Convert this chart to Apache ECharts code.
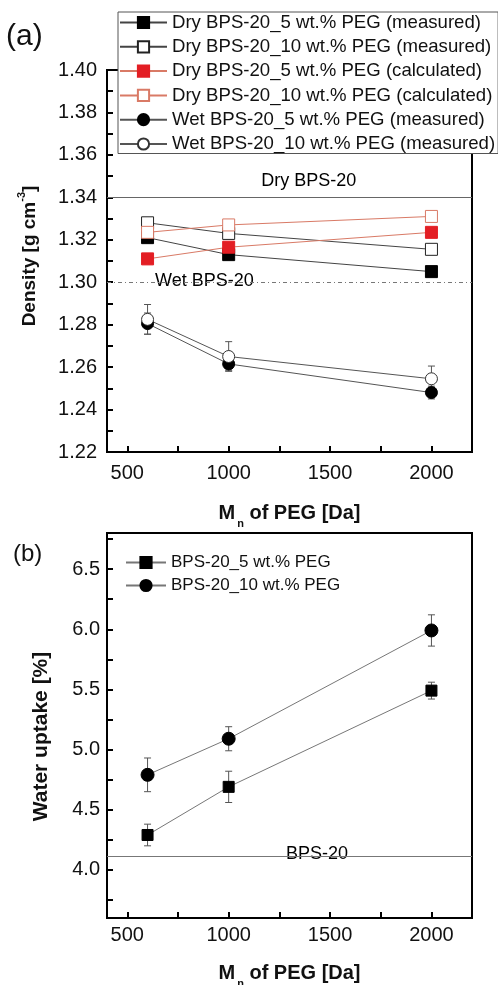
<!DOCTYPE html>
<html>
<head>
<meta charset="utf-8">
<script src="https://cdn.jsdelivr.net/npm/echarts@6/dist/echarts.min.js"></script>
<style>
html,body{margin:0;padding:0;background:#fff;}
#chart{width:498px;height:985px;}
</style>
</head>
<body>
<div id="chart"></div>
<script>
// ---------- data ----------
const mnPEG = [600, 1000, 2000];
// (a) density [g cm-3]
const dry5Measured = [1.321, 1.313, 1.305];
const dry10Measured = [1.328, 1.323, 1.3155];
const dry5Calculated = [1.311, 1.3165, 1.3235];
const dry10Calculated = [1.3235, 1.327, 1.331];
const wet5Measured = [1.2805, 1.2615, 1.248];
const wet5Err = [0.005, 0.003, 0.003];
const wet10Measured = [1.2825, 1.265, 1.2545];
const wet10Err = [0.007, 0.007, 0.006];
const dryRef = 1.341;
const wetRef = 1.299;
// (b) water uptake [%]
const uptake5 = [4.29, 4.69, 5.49];
const uptake5Err = [0.09, 0.13, 0.07];
const uptake10 = [4.79, 5.09, 5.99];
const uptake10Err = [0.14, 0.10, 0.13];
const bpsRef = 4.11;
// ticks
const xTicks = [500, 750, 1000, 1250, 1500, 1750, 2000];
const xLabels = [500, 1000, 1500, 2000];
const yTicksA = [1.22,1.23,1.24,1.25,1.26,1.27,1.28,1.29,1.30,1.31,1.32,1.33,1.34,1.35,1.36,1.37,1.38,1.39,1.40];
const yLabelsA = [1.22,1.24,1.26,1.28,1.30,1.32,1.34,1.36,1.38,1.40];
const yTicksB = [3.75,4.0,4.25,4.5,4.75,5.0,5.25,5.5,5.75,6.0,6.25,6.5,6.75];
const yLabelsB = [4.0,4.5,5.0,5.5,6.0,6.5];
const namesA = [
  'Dry BPS-20_5 wt.% PEG (measured)',
  'Dry BPS-20_10 wt.% PEG (measured)',
  'Dry BPS-20_5 wt.% PEG (calculated)',
  'Dry BPS-20_10 wt.% PEG (calculated)',
  'Wet BPS-20_5 wt.% PEG (measured)',
  'Wet BPS-20_10 wt.% PEG (measured)'
];
const namesB = ['BPS-20_5 wt.% PEG', 'BPS-20_10 wt.% PEG'];

// ---------- helpers ----------
const FONT = 'Liberation Sans, Arial, sans-serif';
const pts = (ys) => mnPEG.map((x, i) => [x, ys[i]]);
const errPts = (ys, es) => mnPEG.map((x, i) => [x, ys[i], es[i]]);
function errSeries(ys, es, xi, yi) {
  return {
    type: 'custom', xAxisIndex: xi, yAxisIndex: yi, z: 1, silent: true,
    data: errPts(ys, es),
    renderItem: function (params, api) {
      const x = api.value(0), y = api.value(1), e = api.value(2);
      const t = api.coord([x, y + e]);
      const b = api.coord([x, y - e]);
      const w = 3.5;
      const st = {stroke: '#555', lineWidth: 1};
      return {type: 'group', children: [
        {type: 'line', shape: {x1: t[0], y1: t[1], x2: b[0], y2: b[1]}, style: st},
        {type: 'line', shape: {x1: t[0]-w, y1: t[1], x2: t[0]+w, y2: t[1]}, style: st},
        {type: 'line', shape: {x1: b[0]-w, y1: b[1], x2: b[0]+w, y2: b[1]}, style: st}
      ]};
    }
  };
}
function lineSeries(name, ys, xi, yi, symbol, size, fill, border, lineColor) {
  return {
    name: name, type: 'line', xAxisIndex: xi, yAxisIndex: yi, z: 3,
    data: pts(ys), symbol: symbol, symbolSize: size,
    itemStyle: {color: fill, borderColor: border, borderWidth: 1, opacity: 1},
    lineStyle: {color: lineColor, width: 1},
    emphasis: {disabled: true}
  };
}
function annot(text, x, y, xi, yi, bg) {
  return {
    type: 'scatter', xAxisIndex: xi, yAxisIndex: yi, z: 4, silent: true,
    symbolSize: 1, itemStyle: {color: 'rgba(0,0,0,0)'},
    data: [[x, y]],
    label: {show: true, position: 'inside', formatter: text, fontFamily: FONT, fontSize: 18, color: '#000',
      textBorderWidth: 0, textBorderColor: 'transparent', opacity: 1,
      backgroundColor: bg, padding: [0, 1]}
  };
}
const axisCommon = {
  axisLine: {show: true, onZero: false, lineStyle: {color: '#000', width: 2}},
  splitLine: {show: false},
  nameTextStyle: {fontFamily: FONT}
};
const plainNum = v => String(v);

const option = {
  animation: false,
  backgroundColor: '#fff',
  title: [
    {text: '(a)', left: 1, top: 17, textStyle: {fontFamily: FONT, fontSize: 30, fontWeight: 'normal', color: '#111'}},
    {text: '(b)', left: 8, top: 537, textStyle: {fontFamily: FONT, fontSize: 24, fontWeight: 'normal', color: '#111'}}
  ],
  grid: [
    {left: 107, right: 26, top: 70, height: 382, show: true, borderColor: '#000', borderWidth: 2,
     backgroundColor: 'transparent', containLabel: false, outerBoundsMode: 'none'},
    {left: 107, right: 26, top: 533, height: 385, show: true, borderColor: '#000', borderWidth: 2,
     backgroundColor: 'transparent', containLabel: false, outerBoundsMode: 'none'}
  ],
  legend: [
    {
      data: namesA, orient: 'vertical', left: 118, top: 12,
      padding: [1, 3, 0, 1], itemGap: 5.3, itemWidth: 47, itemHeight: 14,
      backgroundColor: '#fff', borderColor: '#555', borderWidth: 1,
      textStyle: {fontFamily: FONT, fontSize: 18.6, color: '#111'},
      selectedMode: false
    },
    {
      data: namesB, orient: 'vertical', left: 125, top: 554,
      padding: 0, itemGap: 6, itemWidth: 40, itemHeight: 14,
      textStyle: {fontFamily: FONT, fontSize: 17, color: '#111'},
      selectedMode: false
    }
  ],
  xAxis: [
    Object.assign({}, axisCommon, {
      gridIndex: 0, type: 'value', min: 400, max: 2200,
      axisTick: {show: true, inside: true, length: 6, lineStyle: {color: '#000', width: 2}, customValues: xTicks},
      axisLabel: {customValues: xLabels, margin: 11, fontFamily: FONT, fontSize: 20, color: '#111', formatter: plainNum},
      name: '{m|M}{s|n}{m| of PEG [Da]}', nameLocation: 'middle', nameGap: 46,
      nameTextStyle: {rich: {
        m: {fontFamily: FONT, fontSize: 20, fontWeight: 'bold', color: '#111'},
        s: {fontFamily: FONT, fontSize: 11, fontWeight: 'bold', color: '#111', padding: [20, 0, 0, 2]}
      }}
    }),
    Object.assign({}, axisCommon, {
      gridIndex: 1, type: 'value', min: 400, max: 2200,
      axisTick: {show: true, inside: true, length: 6, lineStyle: {color: '#000', width: 2}, customValues: xTicks},
      axisLabel: {customValues: xLabels, margin: 7, fontFamily: FONT, fontSize: 20, color: '#111', formatter: plainNum},
      name: '{m|M}{s|n}{m| of PEG [Da]}', nameLocation: 'middle', nameGap: 40,
      nameTextStyle: {rich: {
        m: {fontFamily: FONT, fontSize: 20, fontWeight: 'bold', color: '#111'},
        s: {fontFamily: FONT, fontSize: 11, fontWeight: 'bold', color: '#111', padding: [20, 0, 0, 2]}
      }}
    })
  ],
  yAxis: [
    Object.assign({}, axisCommon, {
      gridIndex: 0, type: 'value', min: 1.22, max: 1.40,
      axisTick: {show: true, inside: true, length: 6, lineStyle: {color: '#000', width: 2}, customValues: yTicksA},
      axisLabel: {customValues: yLabelsA, margin: 10, fontFamily: FONT, fontSize: 20, color: '#111',
        formatter: v => v.toFixed(2)},
      name: '{m|Density [g cm}{s|-3}{m|]}', nameLocation: 'middle', nameGap: 64, nameRotate: 90,
      nameTextStyle: {padding: [0, 0, 0, 10], rich: {
        m: {fontFamily: FONT, fontSize: 19, fontWeight: 'bold', color: '#111'},
        s: {fontFamily: FONT, fontSize: 11, fontWeight: 'bold', color: '#111', padding: [0, 0, 16, 0]}
      }}
    }),
    Object.assign({}, axisCommon, {
      gridIndex: 1, type: 'value', min: 3.6, max: 6.8,
      axisTick: {show: true, inside: true, length: 6, lineStyle: {color: '#000', width: 2}, customValues: yTicksB},
      axisLabel: {customValues: yLabelsB, margin: 7, fontFamily: FONT, fontSize: 20, color: '#111',
        formatter: v => v.toFixed(1)},
      name: 'Water uptake [%]', nameLocation: 'middle', nameGap: 55, nameRotate: 90,
      nameTextStyle: {fontFamily: FONT, fontSize: 21, fontWeight: 'bold', color: '#111', padding: [0, 22, 0, 0]}
    })
  ],
  series: [
    {
      type: 'line', xAxisIndex: 0, yAxisIndex: 0, data: [], silent: true,
      markLine: {silent: true, symbol: ['none', 'none'], label: {show: false},
        data: [
          {yAxis: dryRef, lineStyle: {color: '#666', width: 1, type: 'solid'}},
          {yAxis: wetRef, lineStyle: {color: '#777', width: 1, type: [4, 3, 1, 3]}}
        ]}
    },
    {
      type: 'line', xAxisIndex: 1, yAxisIndex: 1, data: [], silent: true,
      markLine: {silent: true, symbol: ['none', 'none'], label: {show: false},
        data: [{yAxis: bpsRef, lineStyle: {color: '#777', width: 1, type: 'solid'}}]}
    },
    annot('Dry BPS-20', 1395, 1.3475, 0, 0, 'transparent'),
    annot('Wet BPS-20', 880, 1.3004, 0, 0, '#fff'),
    annot('BPS-20', 1436, 4.135, 1, 1, '#fff'),
    errSeries(wet5Measured, wet5Err, 0, 0),
    errSeries(wet10Measured, wet10Err, 0, 0),
    errSeries(uptake5, uptake5Err, 1, 1),
    errSeries(uptake10, uptake10Err, 1, 1),
    lineSeries(namesA[0], dry5Measured, 0, 0, 'rect', 12, '#000', '#000', '#444'),
    lineSeries(namesA[1], dry10Measured, 0, 0, 'rect', 12, '#fff', '#222', '#444'),
    lineSeries(namesA[2], dry5Calculated, 0, 0, 'rect', 12, '#e31e24', '#e31e24', '#d97a66'),
    lineSeries(namesA[3], dry10Calculated, 0, 0, 'rect', 12, '#fff', '#d97a66', '#d97a66'),
    lineSeries(namesA[4], wet5Measured, 0, 0, 'circle', 12, '#000', '#000', '#555'),
    lineSeries(namesA[5], wet10Measured, 0, 0, 'circle', 12, '#fff', '#333', '#555'),
    lineSeries(namesB[0], uptake5, 1, 1, 'rect', 11, '#000', '#000', '#777'),
    lineSeries(namesB[1], uptake10, 1, 1, 'circle', 13, '#000', '#000', '#777')
  ]
};

const chart = echarts.init(document.getElementById('chart'), null, {renderer: 'canvas'});
chart.setOption(option);
</script>
</body>
</html>
